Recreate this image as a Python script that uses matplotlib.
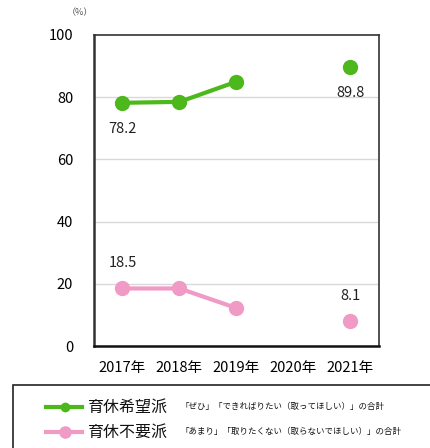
import matplotlib
matplotlib.use("Agg")
import matplotlib.pyplot as plt
from matplotlib.patches import Rectangle
from matplotlib.lines import Line2D

plt.rcParams['font.family'] = ['Noto Sans CJK JP', 'DejaVu Sans']

years = ["2017年", "2018年", "2019年", "2020年", "2021年"]
want = [78.2, 78.5, 85.0, None, 89.8]
nowant = [18.5, 18.5, 12.2, None, 8.1]
labels_want = {0: "78.2", 4: "89.8"}
labels_nowant = {0: "18.5", 4: "8.1"}
yticks = [0, 20, 40, 60, 80, 100]
legend_names = ["育休希望派", "育休不要派"]
legend_notes = ["「ぜひ」「できればりたい（取ってほしい）」の合計",
                "「あまり」「取りたくない（取らないでほしい）」の合計"]

green = "#4DB81C"
pink = "#F09AC6"

fig = plt.figure(figsize=(4.31, 4.48), dpi=100)
ax = fig.add_axes([94/431, 1-346/448, 285/431, 311/448])

x = list(range(len(years)))

def plot_series(vals, color):
    ax.plot(x[:3], vals[:3], color=color, lw=3, marker='o', ms=10, zorder=3,
            solid_capstyle='round')
    ax.plot([4], [vals[4]], color=color, marker='o', ms=10, lw=0, zorder=3)

plot_series(want, green)
plot_series(nowant, pink)

for i, t in labels_want.items():
    ax.annotate(t, (i, want[i]), xytext=(0, -19), textcoords='offset points',
                ha='center', va='center', fontsize=10.5, color='#222222')
for i, t in labels_nowant.items():
    ax.annotate(t, (i, nowant[i]), xytext=(0, 18), textcoords='offset points',
                ha='center', va='center', fontsize=10.5, color='#222222')

ax.set_xlim(-0.5, 4.5)
ax.set_ylim(0, 100)
ax.set_yticks(yticks)
ax.set_yticklabels([str(v) for v in yticks], fontsize=10.5)
ax.set_xticks(x)
ax.set_xticklabels(years, fontsize=10.5)
ax.tick_params(axis='x', length=0, pad=11)
ax.tick_params(axis='y', length=0, pad=15)
for v in yticks[1:-1]:
    ax.axhline(v, color='#D9D9D9', lw=1, zorder=1)
ax.spines['left'].set_linewidth(1.8)
ax.spines['bottom'].set_linewidth(1.8)
ax.spines['top'].set_linewidth(1.2)
ax.spines['right'].set_linewidth(1.2)
for s in ax.spines.values():
    s.set_color('#333333')
ax.spines['bottom'].set_color('#111111')

fig.text(80/431, 1-13/448, "（%）", fontsize=6.5, color='#555555', ha='center', va='center')

# legend box
fig.add_artist(Rectangle((13/431, -0.05), 1.0, 1-385/448+0.05, transform=fig.transFigure,
                         fill=False, edgecolor='#222222', lw=1.2))
for k, (c, name, note) in enumerate(zip([green, pink], legend_names, legend_notes)):
    yy = 1 - (407 + 25*k)/448
    fig.add_artist(Line2D([46/431, 82/431], [yy, yy], transform=fig.transFigure,
                          color=c, lw=3))
    fig.add_artist(Line2D([65/431], [yy], transform=fig.transFigure, color=c,
                          marker='o', ms=6 if k == 0 else 8, lw=0))
    fig.text(87/431, yy, name, fontsize=11.5, ha='left', va='center', color='#111111')
    fig.text(181/431, yy+1/448, note, fontsize=6.1, ha='left', va='center', color='#111111')

fig.savefig("out.png", dpi=100)
